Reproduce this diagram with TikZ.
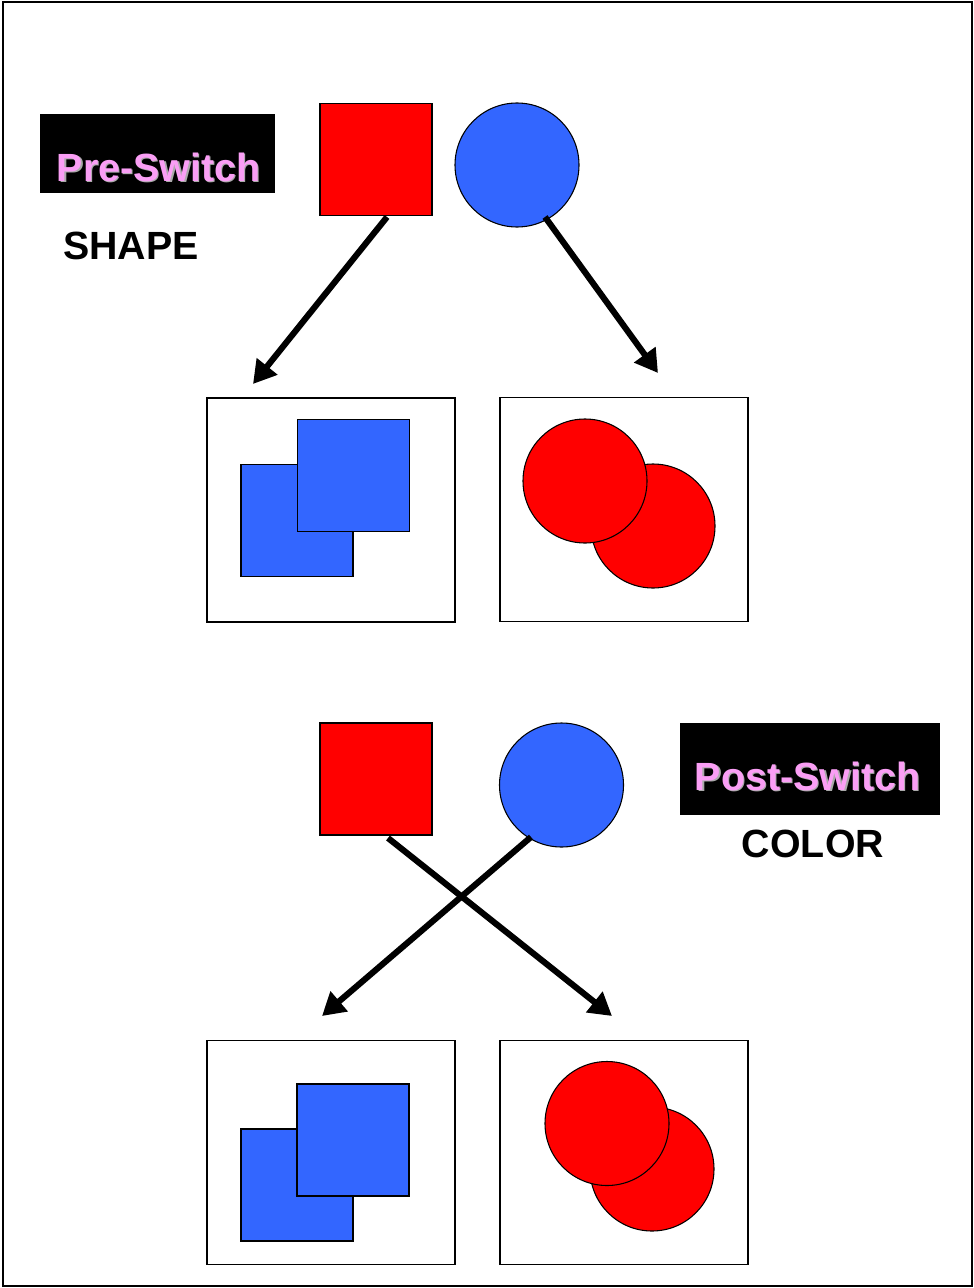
\documentclass[tikz,border=0pt]{standalone}
\usepackage{fontspec}
\setmainfont{Liberation Sans}
\usetikzlibrary{arrows.meta}
\definecolor{myblue}{RGB}{51,102,255}
\definecolor{mypink}{RGB}{250,158,245}
\definecolor{myshadow}{RGB}{170,170,170}
\tikzset{
  redsq/.style={draw, fill=red, minimum size=84pt, inner sep=0pt, line width=0.8pt},
  bluesq/.style={draw, fill=myblue, minimum size=84pt, inner sep=0pt, line width=0.8pt},
  redcirc/.style={circle, draw, fill=red, minimum size=93pt, inner sep=0pt, line width=0.8pt},
  bluecirc/.style={circle, draw, fill=myblue, minimum size=93pt, inner sep=0pt, line width=0.8pt},
  frame/.style={draw, minimum width=186pt, minimum height=168pt, inner sep=0pt, line width=1pt},
  label/.style={font=\bfseries\fontsize{29.5}{32}\selectfont, anchor=base, inner sep=0pt},
  tagtext/.style={font=\bfseries\fontsize{29.5}{32}\selectfont, anchor=base, inner sep=0pt, text=mypink},
  tagshadow/.style={font=\bfseries\fontsize{29.5}{32}\selectfont, anchor=base, inner sep=0pt, text=myshadow},
  bigarrow/.style={line width=4.6pt, -{Triangle[length=17pt,width=19pt]}}
}
\begin{document}
\begin{tikzpicture}[x=0.75pt,y=-0.75pt]
\useasboundingbox (0,0) rectangle (974,1288);
\draw[line width=1.1pt] (3,2) rectangle (972,1286);

% ---- Pre-Switch part ----
\fill[black] (40,114) rectangle (275,193);
\node[tagshadow] (preS) at (160,182.5) {Pre-Switch};
\node[tagtext] (pre) at (158.5,181) {Pre-Switch};
\node[label] (shape) at (131,259) {SHAPE};

\node[redsq] (sqA) at (376,159.5) {};
\node[bluecirc] (ciA) at (517,165) {};

\node[frame] (boxA) at (331,510) {};
\node[frame] (boxB) at (624,509.5) {};

\node[bluesq] (bsA1) at (297,520.5) {};
\node[bluesq] (bsA2) at (353.5,475.5) {};
\node[redcirc] (rcA1) at (653,526) {};
\node[redcirc] (rcA2) at (585,481) {};

\coordinate (a1s) at (387,217);
\coordinate (a1e) at (253,384);
\coordinate (a2s) at (545,217);
\coordinate (a2e) at (658,373);
\draw[bigarrow] (a1s) -- (a1e);
\draw[bigarrow] (a2s) -- (a2e);

% ---- Post-Switch part ----
\fill[black] (680,723) rectangle (940,815);
\node[tagshadow] (postS) at (809,791.5) {Post-Switch};
\node[tagtext] (post) at (807.5,790) {Post-Switch};
\node[label] (color) at (813,857) {COLOR};

\node[redsq] (sqB) at (376,779) {};
\node[bluecirc] (ciB) at (561.5,785) {};

\node[frame] (boxC) at (331,1152.5) {};
\node[frame] (boxD) at (624,1152.5) {};

\node[bluesq] (bsB1) at (297,1185) {};
\node[bluesq] (bsB2) at (353,1140) {};
\node[redcirc] (rcB1) at (652,1169) {};
\node[redcirc] (rcB2) at (607,1123.5) {};

\coordinate (b1s) at (388,838);
\coordinate (b1e) at (612,1016);
\coordinate (b2s) at (531,837);
\coordinate (b2e) at (322,1016);
\draw[bigarrow] (b1s) -- (b1e);
\draw[bigarrow] (b2s) -- (b2e);
\end{tikzpicture}
\end{document}
